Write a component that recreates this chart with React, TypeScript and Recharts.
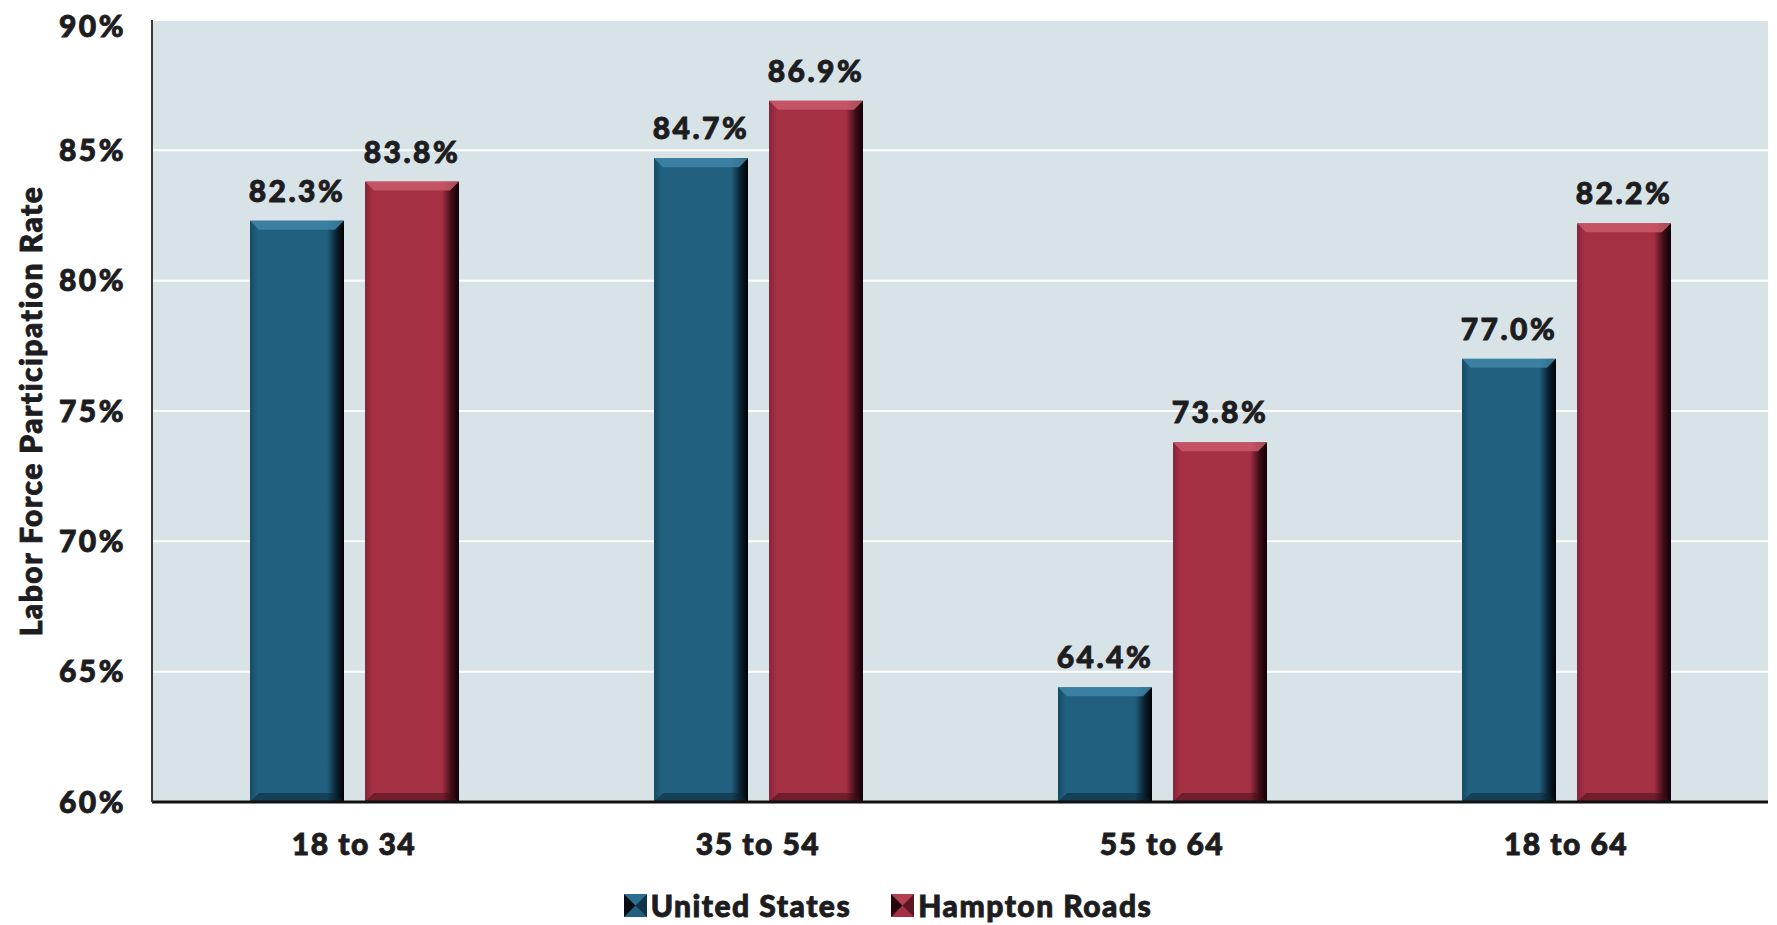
import React from 'react'
import {
  BarChart,
  Bar,
  XAxis,
  YAxis,
  CartesianGrid,
  LabelList,
  Legend,
} from 'recharts'

const CATEGORIES = ['18 to 34', '35 to 54', '55 to 64', '18 to 64']
const UNITED_STATES = [82.3, 84.7, 64.4, 77.0]
const HAMPTON_ROADS = [83.8, 86.9, 73.8, 82.2]
const Y_TICKS = [60, 65, 70, 75, 80, 85, 90]

const FONT = 'Lato, "DejaVu Sans", sans-serif'
const INK = '#1d1d1f'

const data = CATEGORIES.map((name, i) => ({
  name,
  us: UNITED_STATES[i],
  hr: HAMPTON_ROADS[i],
}))

const PALETTE = {
  us: { edge: '#164a63', main: '#21607f', light: '#3f86a8', dark: '#0a2230', shadow: '#000000' },
  hr: { edge: '#85253a', main: '#a52f43', light: '#c95a6a', dark: '#3d0d16', shadow: '#100004' },
}

// heavy text, the original uses a very bold geometric face
const heavy = {
  fontFamily: FONT,
  fontWeight: 900,
  fill: INK,
  stroke: INK,
  strokeWidth: 0.9,
}

// bevelled bar, like the original's 3D effect
function BevelBar(props: any) {
  const { x, y, width, height, kind } = props
  if (!height || height <= 0) return null
  const c = PALETTE[kind as 'us' | 'hr']
  const b = 9
  const gid = `grad-${kind}`
  return (
    <g>
      <defs>
        <linearGradient id={gid} x1="0" y1="0" x2="1" y2="0">
          <stop offset="0%" stopColor={c.edge} />
          <stop offset="8%" stopColor={c.main} />
          <stop offset="82%" stopColor={c.main} />
          <stop offset="92%" stopColor={c.dark} />
          <stop offset="100%" stopColor={c.shadow} />
        </linearGradient>
      </defs>
      <rect x={x} y={y} width={width} height={height} fill={`url(#${gid})`} />
      <polygon
        points={`${x},${y} ${x + width},${y} ${x + width - b},${y + b} ${x + b},${y + b}`}
        fill={c.light}
        opacity={0.85}
      />
      <polygon
        points={`${x},${y + height} ${x + width},${y + height} ${x + width - b},${y + height - b} ${x + b},${y + height - b}`}
        fill={c.dark}
        opacity={0.5}
      />
      <rect x={x} y={y + height - 1} width={width} height={4} fill={c.light} />
    </g>
  )
}

function YAxisTitle(props: any) {
  const { viewBox } = props
  const cx = 22
  const cy = viewBox.y + viewBox.height / 2
  return (
    <text
      x={cx}
      y={cy}
      transform={`rotate(-90, ${cx}, ${cy})`}
      textAnchor="middle"
      dominantBaseline="central"
      fontSize={30}
      letterSpacing={1.5}
      {...heavy}
    >
      Labor Force Participation Rate
    </text>
  )
}

function LegendSwatch({ kind }: { kind: 'us' | 'hr' }) {
  const c = PALETTE[kind]
  return (
    <svg width={23} height={23} style={{ marginRight: 4 }}>
      <rect x={0} y={0} width={23} height={23} fill={c.main} />
      <polygon points="0,0 11.5,11.5 0,23" fill={c.shadow} opacity={0.85} />
      <polygon points="23,0 11.5,11.5 23,23" fill={c.dark} opacity={0.7} />
      <polygon points="0,0 23,0 11.5,11.5" fill={c.light} opacity={0.4} />
    </svg>
  )
}

function ChartLegend() {
  const items: { kind: 'us' | 'hr'; label: string }[] = [
    { kind: 'us', label: 'United States' },
    { kind: 'hr', label: 'Hampton Roads' },
  ]
  return (
    <div
      style={{
        display: 'flex',
        justifyContent: 'center',
        alignItems: 'center',
        gap: 40,
        position: 'relative',
        top: 15,
        fontFamily: FONT,
        fontWeight: 900,
        fontSize: 30,
        letterSpacing: 1.5,
        color: INK,
        WebkitTextStroke: `0.9px ${INK}`,
      }}
    >
      {items.map((it) => (
        <div key={it.kind} style={{ display: 'flex', alignItems: 'center' }}>
          <LegendSwatch kind={it.kind} />
          <span>{it.label}</span>
        </div>
      ))}
    </div>
  )
}

const valueLabel = (v: any) => `${Number(v).toFixed(1)}%`

export default function App() {
  return (
    <BarChart
      width={1769}
      height={917}
      data={data}
      margin={{ top: 12, right: 9, left: 0, bottom: 8 }}
      barSize={94}
      barGap={21}
    >
      <CartesianGrid
        vertical={false}
        stroke="#ffffff"
        strokeWidth={2}
        fill="#d8e3e7"
        fillOpacity={1}
      />
      <XAxis
        dataKey="name"
        height={70}
        tickLine={false}
        axisLine={{ stroke: '#111111', strokeWidth: 3 }}
        tickMargin={26}
        tick={{ ...heavy, fontSize: 30, letterSpacing: 1.5 }}
        interval={0}
      />
      <XAxis xAxisId="top" dataKey="name" orientation="top" height={0} tick={false} tickLine={false} axisLine={{ stroke: '#3a3a3a', strokeWidth: 2 }} />
      <YAxis
        domain={[60, 90]}
        ticks={Y_TICKS}
        width={144}
        tickLine={false}
        axisLine={{ stroke: '#3a3a3a', strokeWidth: 2 }}
        tickSize={0}
        tickMargin={26}
        tickFormatter={(v) => `${v}%`}
        tick={{ ...heavy, fontSize: 30, letterSpacing: 2.5 }}
        allowDataOverflow
        label={<YAxisTitle />}
      />
      <YAxis yAxisId="right" orientation="right" width={0} tick={false} tickLine={false} axisLine={{ stroke: '#3a3a3a', strokeWidth: 2 }} />
      <Legend verticalAlign="bottom" height={45} content={<ChartLegend />} />
      <Bar dataKey="us" name="United States" isAnimationActive={false} shape={<BevelBar kind="us" />}>
        <LabelList
          dataKey="us"
          position="top"
          offset={19}
          formatter={valueLabel}
          style={{ ...heavy, fontSize: 30, letterSpacing: 2.5 }}
        />
      </Bar>
      <Bar dataKey="hr" name="Hampton Roads" isAnimationActive={false} shape={<BevelBar kind="hr" />}>
        <LabelList
          dataKey="hr"
          position="top"
          offset={19}
          formatter={valueLabel}
          style={{ ...heavy, fontSize: 30, letterSpacing: 2.5 }}
        />
      </Bar>
    </BarChart>
  )
}
